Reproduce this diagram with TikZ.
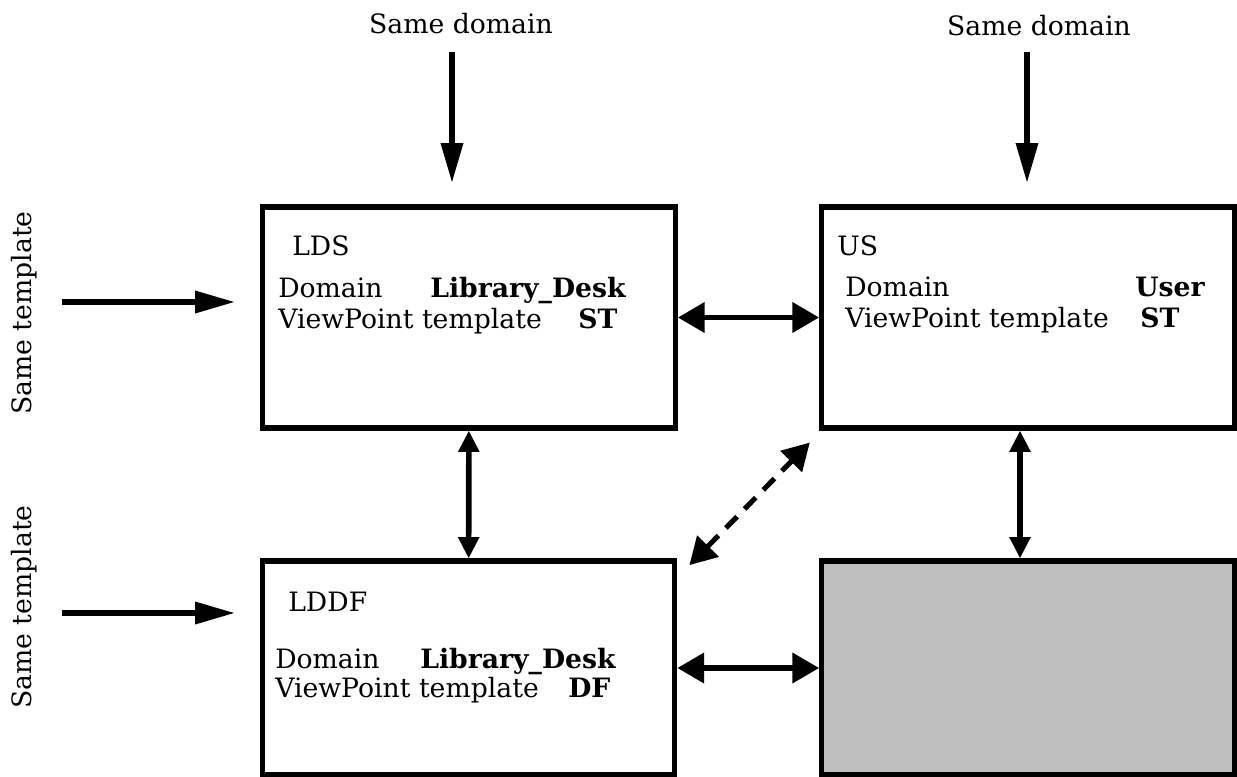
\documentclass[tikz,border=0pt]{standalone}
\usepackage{fontspec}
\setmainfont{DejaVu Serif}
\usetikzlibrary{arrows.meta}
\definecolor{boxgray}{HTML}{BFBFBF}

\begin{document}
\begin{tikzpicture}[x=0.75pt,y=-0.75pt,
  font=\fontsize{20pt}{24pt}\selectfont,
  box/.style={draw=black,line width=3.8pt,inner sep=0pt,minimum width=309.5pt},
  txt/.style={anchor=base west,inner sep=0pt},
  feed/.style={line width=4.2pt,-{Triangle[length=30pt,width=16pt]}},
  hlink/.style={line width=4.2pt,{Triangle[length=20pt,width=22pt]}-{Triangle[length=20pt,width=22pt]}},
  vlink/.style={line width=4.2pt,{Triangle[length=16pt,width=15pt]}-{Triangle[length=16pt,width=15pt]}}]
  \useasboundingbox (0,0) rectangle (1237,776);
  % the four viewpoints
  \node[box,minimum height=165.75pt] (lds) at (469,317.5) {};
  \node[box,minimum height=165.75pt] (us) at (1028,317.5) {};
  \node[box,minimum height=160.5pt] (lddf) at (468.5,668) {};
  \node[box,minimum height=160.5pt,fill=boxgray] (empty) at (1028,668) {};
  % box contents
  \node[txt] (ldsname) at (292,255) {LDS};
  \node[txt] (ldsdom) at (278,297) {Domain};
  \node[txt] (ldsdomv) at (430,297) {\textbf{Library\_Desk}};
  \node[txt] (ldstpl) at (278,328) {ViewPoint template};
  \node[txt] (ldstplv) at (578,328) {\textbf{ST}};
  \node[txt] (usname) at (837,255) {US};
  \node[txt] (usdom) at (845,296) {Domain};
  \node[txt] (usdomv) at (1135,296) {\textbf{User}};
  \node[txt] (ustpl) at (845,327) {ViewPoint template};
  \node[txt] (ustplv) at (1140,327) {\textbf{ST}};
  \node[txt] (lddfname) at (288,611) {LDDF};
  \node[txt] (lddfdom) at (275,668) {Domain};
  \node[txt] (lddfdomv) at (420,668) {\textbf{Library\_Desk}};
  \node[txt] (lddftpl) at (275,697) {ViewPoint template};
  \node[txt] (lddftplv) at (568,697) {\textbf{DF}};
  % outside labels
  \node[anchor=base,inner sep=0pt] (samedom1) at (461,33) {Same domain};
  \node[anchor=base,inner sep=0pt] (samedom2) at (1039,35) {Same domain};
  \node[rotate=90,inner sep=0pt] (sametpl1) at (24,313) {Same template};
  \node[rotate=90,inner sep=0pt] (sametpl2) at (24,607) {Same template};
  \coordinate (d1a) at (452,52);
  \coordinate (d1b) at (452,183);
  \coordinate (d2a) at (1027,52);
  \coordinate (d2b) at (1027,183);
  \coordinate (t1a) at (62,302);
  \coordinate (t1b) at (235,302);
  \coordinate (t2a) at (62,613);
  \coordinate (t2b) at (235,613);
  % arrows
  \draw[feed] (d1a) -- (d1b);
  \draw[feed] (d2a) -- (d2b);
  \draw[feed] (t1a) -- (t1b);
  \draw[feed] (t2a) -- (t2b);
  \draw[hlink] (lds) -- (us);
  \draw[hlink] (lddf) -- (empty);
  \draw[vlink] (lds) -- (lddf);
  \draw[vlink] ([xshift=-6pt]us.south) -- ([xshift=-6pt]empty.north);
  \draw[hlink,line width=3.8pt,dash pattern=on 12pt off 8pt]
    ([xshift=9pt,yshift=-5pt]lddf.north east) -- ([xshift=-7pt,yshift=-9pt]us.south west);
\end{tikzpicture}
\end{document}
